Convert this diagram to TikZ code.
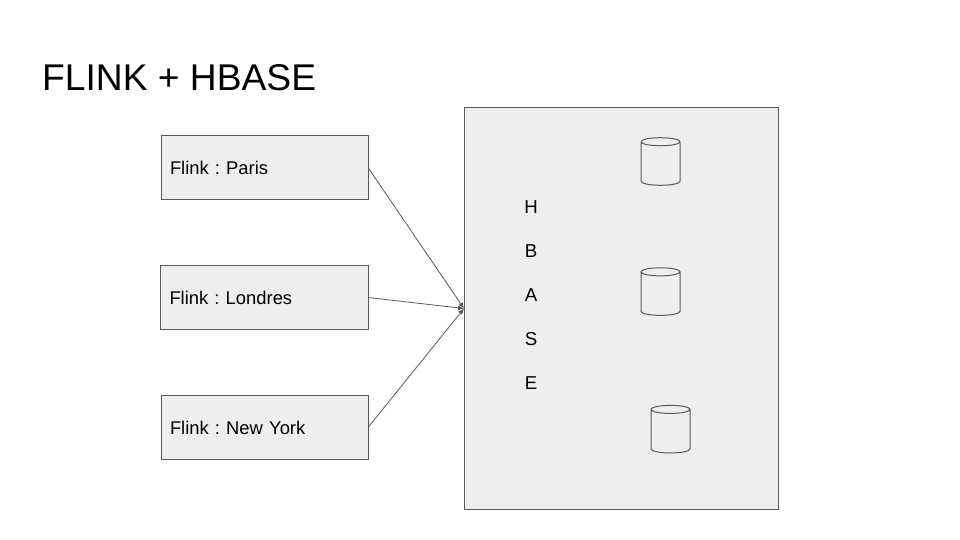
\documentclass[tikz,border=0pt]{standalone}
\usepackage{fontspec}
\setmainfont{Liberation Sans}
\usetikzlibrary{positioning}
\usetikzlibrary{arrows.meta,arrows}
\usetikzlibrary{shapes.geometric}
\definecolor{BoxFill}{HTML}{EEEEEE}
\definecolor{BoxLine}{HTML}{595959}
\tikzset{
	flinkbox/.style={draw=BoxLine,fill=BoxFill,line width=1pt,outer sep=0pt,minimum width=207pt,minimum height=64pt,inner sep=0pt,text width=189pt,align=left,font=\fontsize{18.4pt}{22pt}\selectfont\frenchspacing},
	letter/.style={inner sep=0pt,font=\fontsize{18.67pt}{22pt}\selectfont},
	store/.style={draw=BoxLine,fill=BoxFill,line width=1pt,cylinder,shape border rotate=90,aspect=0.62,minimum width=39pt,minimum height=43pt,inner xsep=6.5pt,inner ysep=19pt,outer sep=0pt},
	link/.style={draw=BoxLine,line width=.8pt,-{Latex[length=6pt,width=5pt]}}
}
\begin{document}
\begin{tikzpicture}[x=1pt,y=1pt]
	\useasboundingbox (0,-540) rectangle (960,0);
	\node[anchor=base west,inner sep=0pt,font=\fontsize{37.2pt}{44pt}\selectfont](title) at (42,-91) {FLINK + HBASE};
	\node[flinkbox](paris) at (264.5,-167.5) {Flink : Paris};
	\node[flinkbox,below=66pt of paris,minimum width=208pt,xshift=-.5pt](londres) {Flink : Londres};
	\node[flinkbox,below=66pt of londres,xshift=.5pt](newyork) {Flink : New York};
	\node[draw=BoxLine,fill=BoxFill,line width=1pt,outer sep=0pt,minimum width=314pt,minimum height=402pt](hbase) at (621,-308.5) {};
	\node[store,anchor=shape center](store1) at (660.5,-161.5) {};
	\node[store,below=82.5pt of store1](store2) {};
	\node[store,below=90pt of store2,xshift=10pt](store3) {};
	\node[letter](h) at (531,-207.5) {H};
	\node[letter,below=44pt of h.center,anchor=center](b) {B};
	\node[letter,below=44pt of b.center,anchor=center](a) {A};
	\node[letter,below=44pt of a.center,anchor=center](s) {S};
	\node[letter,below=44pt of s.center,anchor=center](e) {E};

	\draw[link] (paris.east) to (hbase.west);
	\draw[link] (londres.east) to (hbase.west);
	\draw[link] (newyork.east) to (hbase.west);
\end{tikzpicture}
\end{document}
